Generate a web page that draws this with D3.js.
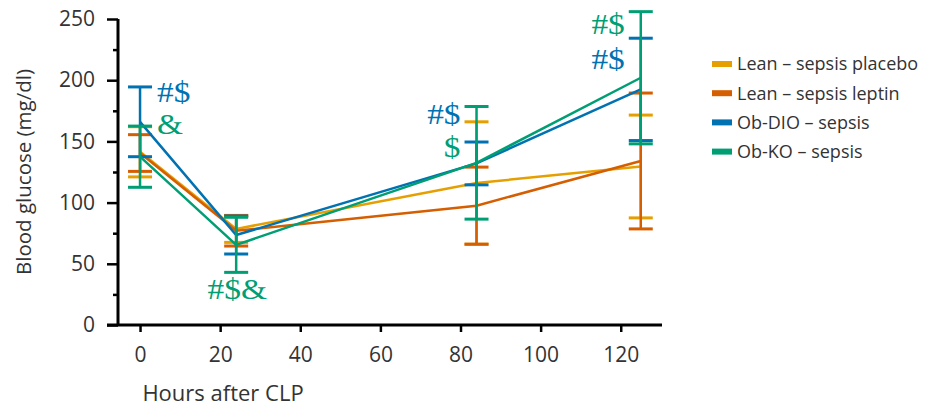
<!DOCTYPE html>
<html><head><meta charset="utf-8">
<script src="https://cdn.jsdelivr.net/npm/d3@7"></script>
<style>
body{margin:0;background:#fff;}
svg{display:block;}
</style></head>
<body><svg id="chart" width="927" height="410"></svg>
<script>
const hours = [0, 24, 84, 125];
const seriesNames = ["Lean \u2013 sepsis placebo", "Lean \u2013 sepsis leptin", "Ob-DIO \u2013 sepsis", "Ob-KO \u2013 sepsis"];
const seriesColors = ["#E69F00", "#D55E00", "#0072B2", "#009E73"];
const placeboMean = [141.5, 78.5, 116, 129.5];
const placeboSD   = [20.5, 11, 50, 42];
const leptinMean  = [140.5, 77, 97.5, 134];
const leptinSD    = [15, 12.5, 31.5, 55.5];
const dioMean     = [166, 73.5, 132, 192.5];
const dioSD       = [28.5, 15.5, 17.5, 41.8];
const koMean      = [137.5, 65.5, 132.5, 202];
const koSD        = [25, 22.5, 46, 54];
const yTicks = [0, 50, 100, 150, 200, 250];
const yMinor = [25, 75, 125, 175, 225];
const xTicks = [0, 20, 40, 60, 80, 100, 120];
const annotations = [
  {text: "#$",  x: 0,   y: 182, series: 2, anchor: "start"},
  {text: "&",   x: 0,   y: 156, series: 3, anchor: "start"},
  {text: "#$&", x: 24,  y: 21,  series: 3, anchor: "middle"},
  {text: "#$",  x: 84,  y: 164, series: 2, anchor: "end"},
  {text: "$",   x: 84,  y: 137, series: 3, anchor: "end"},
  {text: "#$",  x: 125, y: 238, series: 3, anchor: "end"},
  {text: "#$",  x: 125, y: 209, series: 2, anchor: "end"}
];

const means = [placeboMean, leptinMean, dioMean, koMean];
const sds = [placeboSD, leptinSD, dioSD, koSD];

const svg = d3.select("#chart");
const x = d3.scaleLinear().domain([-5.5, 130.3]).range([118, 662]);
const y = d3.scaleLinear().domain([0, 250]).range([325, 19]);
const textColor = "#333";
const sans = "'Open Sans', sans-serif";

// y axis
const yAxis = d3.axisLeft(y).tickValues(yTicks).tickSize(11).tickPadding(12).tickFormat(d3.format("d"));
const gy = svg.append("g").attr("transform", "translate(118,0)").call(yAxis);
gy.select(".domain").attr("stroke", "#000").attr("stroke-width", 3).attr("d", "M0,19V325");
gy.selectAll(".tick line").attr("stroke", "#000").attr("stroke-width", 2.5);
gy.selectAll(".tick text").attr("fill", textColor).style("font-family", sans).style("font-size", "21px");
const gyMinor = svg.append("g").attr("transform", "translate(118,0)")
  .call(d3.axisLeft(y).tickValues(yMinor).tickSize(5).tickFormat(""));
gyMinor.select(".domain").remove();
gyMinor.selectAll(".tick line").attr("stroke", "#000").attr("stroke-width", 2.5);

// x axis
const xAxis = d3.axisBottom(x).tickValues(xTicks).tickSize(7).tickPadding(15).tickFormat(d3.format("d"));
const gx = svg.append("g").attr("transform", "translate(0,325)").call(xAxis);
gx.select(".domain").attr("stroke", "#000").attr("stroke-width", 3).attr("d", "M107,0H662");
gx.selectAll(".tick line").attr("stroke", "#000").attr("stroke-width", 2.5);
gx.selectAll(".tick text").attr("fill", textColor).style("font-family", sans).style("font-size", "21px");

// axis titles
svg.append("text").attr("x", 223).attr("y", 401).attr("text-anchor", "middle")
  .attr("fill", textColor).style("font-family", sans).style("font-size", "22px").text("Hours after CLP");
svg.append("text").attr("transform", "translate(31,172) rotate(-90)").attr("text-anchor", "middle")
  .attr("fill", textColor).style("font-family", sans).style("font-size", "20.5px").text("Blood glucose (mg/dl)");

// series
const line = d3.line().x(d => x(d[0])).y(d => y(d[1]));
means.forEach((m, si) => {
  const g = svg.append("g");
  const c = seriesColors[si];
  const pts = hours.map((h, i) => [h, m[i]]);
  g.append("path").attr("d", line(pts)).attr("fill", "none").attr("stroke", c).attr("stroke-width", 2.5);
  hours.forEach((h, i) => {
    const lo = m[i] - sds[si][i], hi = m[i] + sds[si][i];
    const cx = x(h);
    g.append("line").attr("x1", cx).attr("x2", cx).attr("y1", y(lo)).attr("y2", y(hi)).attr("stroke", c).attr("stroke-width", 2.5);
    [lo, hi].forEach(v => g.append("line").attr("x1", cx - 12).attr("x2", cx + 12).attr("y1", y(v)).attr("y2", y(v)).attr("stroke", c).attr("stroke-width", 3));
  });
});

// annotations
const annX = {start: 17, middle: 1, end: -16};
annotations.forEach(a => {
  svg.append("g").attr("transform", `translate(${x(a.x) + annX[a.anchor]},${y(a.y)}) scale(1.15,1)`)
    .append("text").attr("text-anchor", a.anchor).attr("fill", seriesColors[a.series])
    .style("font-family", "'Liberation Serif', serif").style("font-size", "29px").text(a.text);
});

// legend
const lg = svg.append("g").attr("transform", "translate(712,64)");
seriesNames.forEach((n, i) => {
  const row = lg.append("g").attr("transform", `translate(0,${i * 29.2})`);
  row.append("rect").attr("x", 0).attr("y", -3).attr("width", 20).attr("height", 6).attr("fill", seriesColors[i]);
  row.append("text").attr("x", 25).attr("y", 0).attr("dy", "0.35em").attr("fill", textColor)
    .style("font-family", sans).style("font-size", "18px").text(n);
});
</script></body></html>
